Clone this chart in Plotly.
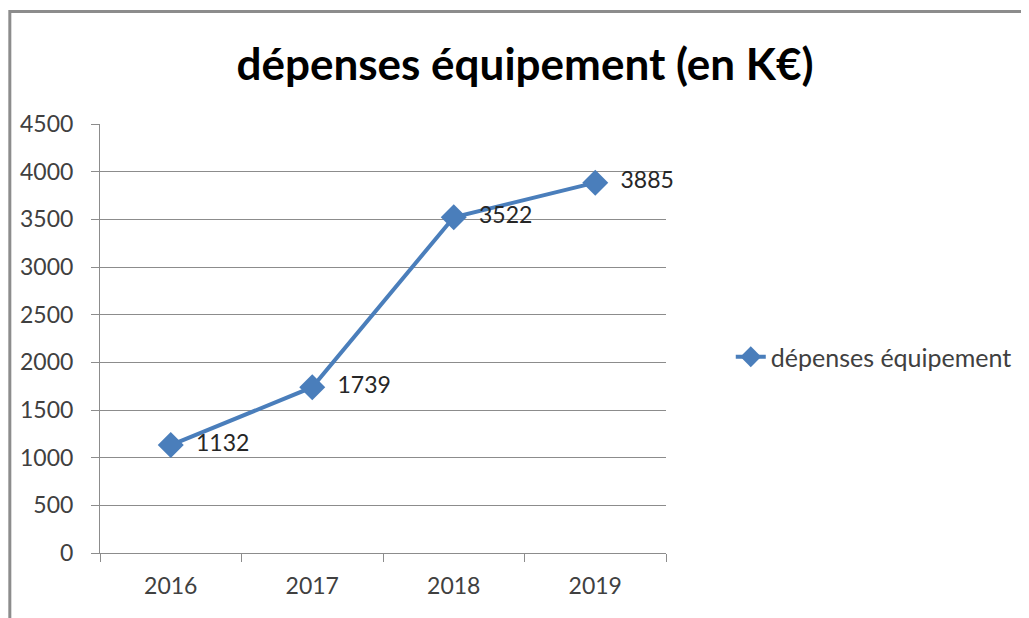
import plotly.graph_objects as go

years = ["2016", "2017", "2018", "2019"]
depenses = [1132, 1739, 3522, 3885]
series_name = "dépenses équipement"
title_text = "dépenses équipement (en K€)"
y_ticks = [0, 500, 1000, 1500, 2000, 2500, 3000, 3500, 4000, 4500]

blue = "#4a7ebb"
grid = "#8c8c8c"
font_fam = "Lato, Calibri, 'Open Sans', sans-serif"

fig = go.Figure()
fig.add_trace(go.Scatter(
    x=years, y=depenses, name=series_name,
    mode="lines+markers+text",
    line=dict(color=blue, width=4),
    marker=dict(symbol="diamond", size=20, color=blue),
    text=["  " + str(v) for v in depenses],
    textposition="middle right",
    textfont=dict(family=font_fam, size=23, color="#262626"),
    cliponaxis=False,
))

# page body has an 8px margin; work in figure coordinates
W, H = 1021, 610
L, R, T, B = 92, 660, 116, 545
pw, ph = R - L, B - T

def px_x(x):
    return (x - L) / pw

def px_y(y):
    return (B - y) / ph

fig.update_layout(
    width=W, height=H,
    margin=dict(l=L, r=W - R, t=T, b=H - B, pad=0),
    paper_bgcolor="white", plot_bgcolor="white",
    title=dict(text=title_text, x=517 / W, xanchor="center",
               y=1 - 57 / H, yanchor="middle",
               font=dict(family=font_fam, size=44, color="#000000", weight="bold")),
    showlegend=True,
    legend=dict(x=px_x(725), y=px_y(349), xanchor="left", yanchor="middle",
                font=dict(family=font_fam, size=25, color="#404040"),
                bgcolor="rgba(0,0,0,0)"),
    xaxis=dict(type="category", range=[-0.5, 3.5], showgrid=False,
               showline=True, linecolor=grid, linewidth=1,
               ticks="outside", ticklen=8, tickcolor=grid, tickson="boundaries",
               tickfont=dict(family=font_fam, size=23, color="#404040"),
               ticklabelstandoff=12,
               zeroline=False, fixedrange=True),
    yaxis=dict(range=[0, 4500], tickvals=y_ticks, showgrid=True,
               gridcolor=grid, gridwidth=1,
               showline=True, linecolor=grid, linewidth=1,
               ticks="outside", ticklen=8, tickcolor=grid,
               tickfont=dict(family=font_fam, size=23, color="#404040"),
               ticklabelstandoff=13,
               zeroline=False, fixedrange=True),
    shapes=[dict(type="rect", xref="paper", yref="paper",
                 x0=px_x(1.5), x1=px_x(1100), y0=px_y(700), y1=px_y(3.5),
                 line=dict(color="#8c8c8c", width=3), layer="below")],
)

fig.write_html("out.html")
